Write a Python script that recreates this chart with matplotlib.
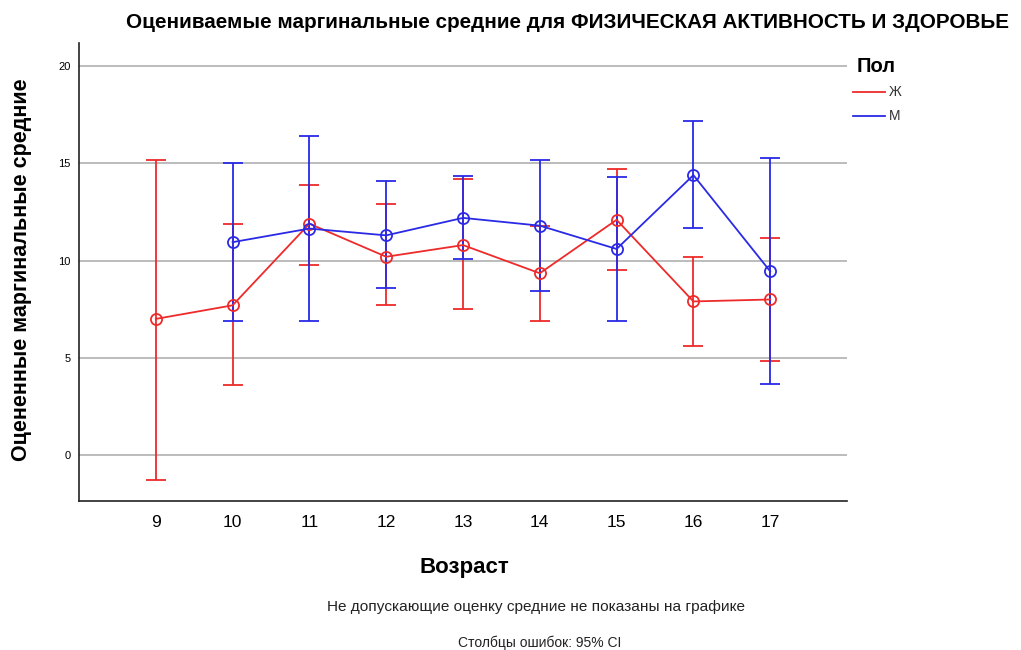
import matplotlib
matplotlib.use("Agg")
import matplotlib.pyplot as plt
from matplotlib.lines import Line2D

ages = [9, 10, 11, 12, 13, 14, 15, 16, 17]
f_mean = [7.0, 7.7, 11.9, 10.2, 10.8, 9.35, 12.1, 7.9, 8.0]
f_low = [-1.3, 3.6, 9.8, 7.7, 7.5, 6.9, 9.5, 5.6, 4.85]
f_high = [15.2, 11.9, 13.9, 12.9, 14.2, 11.8, 14.7, 10.2, 11.15]

m_ages = [10, 11, 12, 13, 14, 15, 16, 17]
m_mean = [10.95, 11.65, 11.3, 12.2, 11.8, 10.6, 14.4, 9.45]
m_low = [6.9, 6.9, 8.6, 10.1, 8.45, 6.9, 11.7, 3.65]
m_high = [15.05, 16.4, 14.1, 14.35, 15.2, 14.3, 17.2, 15.3]

yticks = [0, 5, 10, 15, 20]
series_names = ["Ж", "М"]
title = "Оцениваемые маргинальные средние для ФИЗИЧЕСКАЯ АКТИВНОСТЬ И ЗДОРОВЬЕ"
ylabel = "Оцененные маргинальные средние"
xlabel = "Возраст"
note1 = "Не допускающие оценку средние не показаны на графике"
note2 = "Столбцы ошибок: 95% CI"

RED = "#ee2a2a"
BLUE = "#2a2ae6"

plt.rcParams['font.family'] = ['Liberation Sans', 'DejaVu Sans']

fig = plt.figure(figsize=(10.21, 6.5), dpi=100)
ax = fig.add_axes([79/1021, 1-501/650, (847-79)/1021, (501-43)/650])

def draw(x, mean, low, high, color):
    yerr = [[m - l for m, l in zip(mean, low)], [h - m for m, h in zip(mean, high)]]
    ax.errorbar(x, mean, yerr=yerr, color=color, lw=1.3, elinewidth=1.3,
                capsize=7.5, capthick=1.3, marker='o', markersize=8,
                markerfacecolor='none', markeredgecolor=color, markeredgewidth=1.3, zorder=3)

draw(ages, f_mean, f_low, f_high, RED)
draw(m_ages, m_mean, m_low, m_high, BLUE)

ax.set_xlim(8, 18)
ax.set_ylim(-2.37, 21.2)
ax.set_xticks(ages)
ax.set_xticklabels([str(a) for a in ages], fontsize=12.5)
ax.set_yticks(yticks)
ax.set_yticklabels([str(v) for v in yticks], fontsize=8)
ax.tick_params(length=0, pad=6)
ax.tick_params(axis='x', pad=10)
ax.grid(axis='y', color='#b0b0b0', lw=1.2)
ax.set_axisbelow(True)
for s in ['top', 'right']:
    ax.spines[s].set_visible(False)
for s in ['left', 'bottom']:
    ax.spines[s].set_color('#222222')
    ax.spines[s].set_linewidth(1.2)

fig.text(568/1021, 1-22/650, title, ha='center', va='center', fontsize=14.9,
         fontweight='bold')
fig.text(22/1021, 1-270/650, ylabel, rotation=90, ha='center', va='center',
         fontsize=15.5, fontweight='bold')
fig.text(464/1021, 1-568/650, xlabel, ha='center', va='center', fontsize=16, fontweight='bold')
fig.text(536/1021, 1-607/650, note1, ha='center', va='center', fontsize=11.1, color='#222222')
fig.text(540/1021, 1-643/650, note2, ha='center', va='center', fontsize=10, color='#222222')

fig.text(857/1021, 1-66/650, "Пол", ha='left', va='center', fontsize=14.5, fontweight='bold')
for i, (name, c) in enumerate(zip(series_names, [RED, BLUE])):
    yy = 1 - (92 + 24*i)/650
    fig.add_artist(Line2D([853/1021, 885/1021], [yy, yy], color=c, lw=1.3))
    fig.text(889/1021, yy, name, ha='left', va='center', fontsize=10, color='#333333')

fig.savefig("out.png", dpi=100)
